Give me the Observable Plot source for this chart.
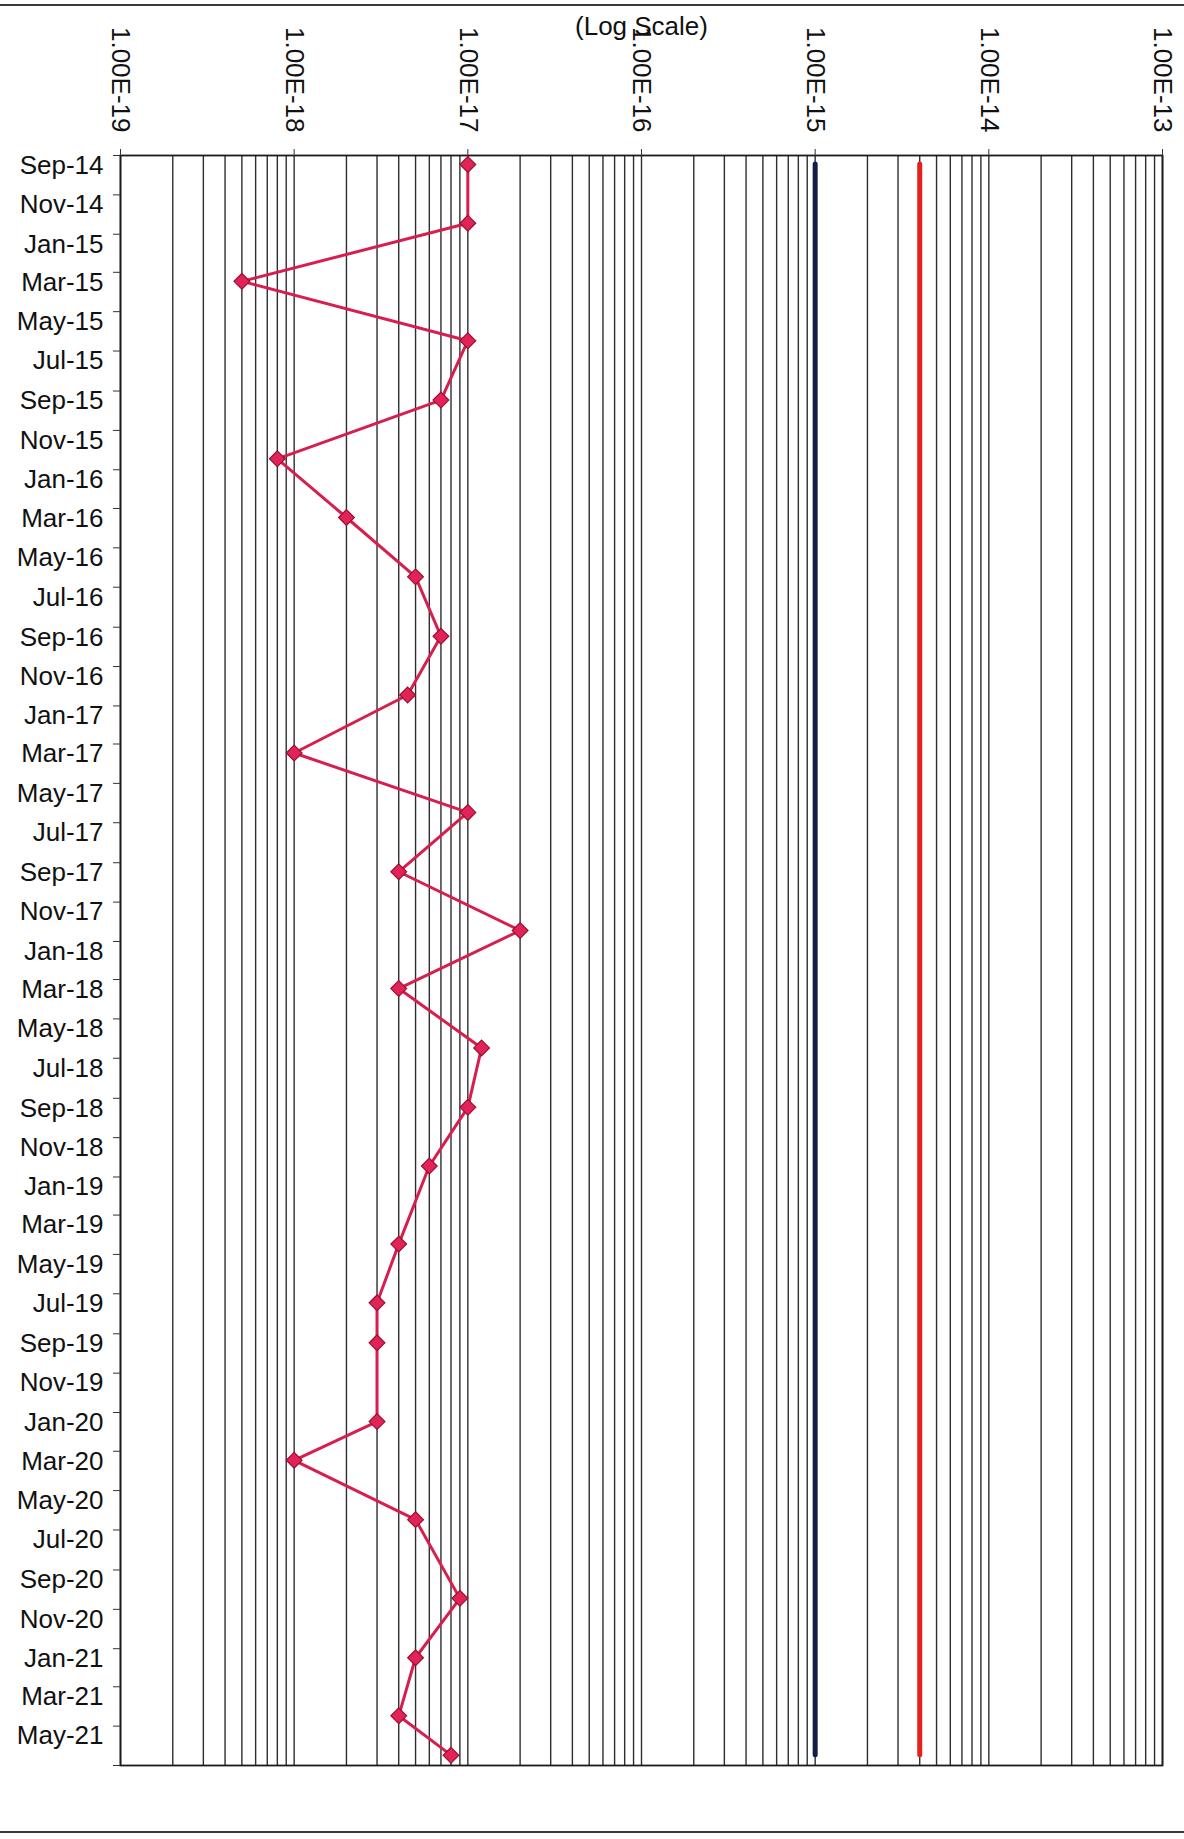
<!DOCTYPE html>
<html>
<head>
<meta charset="utf-8">
<script src="https://cdn.jsdelivr.net/npm/d3@7"></script>
<script src="https://cdn.jsdelivr.net/npm/@observablehq/plot@0.6"></script>
<style>
  html, body { margin: 0; padding: 0; background: #fff; }
  #wrap { position: relative; width: 1184px; height: 1839px; overflow: hidden; }
  .pageline { position: absolute; left: 0; width: 1184px; height: 2px; background: #3a3a3a; }
  #chart svg { display: block; }
</style>
</head>
<body>
<div id="wrap">
  <div id="chart"></div>
  <div class="pageline" style="top:4px"></div>
  <div class="pageline" style="top:1831px"></div>
</div>
<script>
// ---- data ----
const sampleDates = ["2014-09-15","2014-12-15","2015-03-15","2015-06-15","2015-09-15","2015-12-15","2016-03-15","2016-06-15","2016-09-15","2016-12-15","2017-03-15","2017-06-15","2017-09-15","2017-12-15","2018-03-15","2018-06-15","2018-09-15","2018-12-15","2019-04-15","2019-07-15","2019-09-15","2020-01-15","2020-03-15","2020-06-15","2020-10-15","2021-01-15","2021-04-15","2021-06-15"];
const sampleValues = [1e-17,1e-17,5e-19,1e-17,7e-18,8e-19,2e-18,5e-18,7e-18,4.5e-18,1e-18,1e-17,4e-18,2e-17,4e-18,1.2e-17,1e-17,6e-18,4e-18,3e-18,3e-18,3e-18,1e-18,5e-18,9e-18,5e-18,4e-18,8e-18];

const limitValues = [1e-15, 4e-15];
const limitColors = ["#101d45", "#e3201b"];

const xTickValues = [1e-19, 1e-18, 1e-17, 1e-16, 1e-15, 1e-14, 1e-13];
const xTickLabels = ["1.00E-19","1.00E-18","1.00E-17","1.00E-16","1.00E-15","1.00E-14","1.00E-13"];

const yTickLabels = ["Sep-14","Nov-14","Jan-15","Mar-15","May-15","Jul-15","Sep-15","Nov-15","Jan-16","Mar-16","May-16","Jul-16","Sep-16","Nov-16","Jan-17","Mar-17","May-17","Jul-17","Sep-17","Nov-17","Jan-18","Mar-18","May-18","Jul-18","Sep-18","Nov-18","Jan-19","Mar-19","May-19","Jul-19","Sep-19","Nov-19","Jan-20","Mar-20","May-20","Jul-20","Sep-20","Nov-20","Jan-21","Mar-21","May-21"];
const yDomainLabels = ["Sep-14", "Jul-21"];
const axisTitle = "(Log Scale)";

// ---- derived tables ----
const parseISO = d3.utcParse("%Y-%m-%d");
const parseMon = d3.utcParse("%b-%y");
const data = sampleDates.map((d, i) => ({date: parseISO(d), value: sampleValues[i]}));
const yDomain = yDomainLabels.map(parseMon);
const yTickDates = [...yTickLabels.map(parseMon), yDomain[1]];
const yLabelRows = yTickLabels.map(l => ({label: l, date: parseMon(l)}));
const xLabelRows = xTickValues.map((v, i) => ({value: v, label: xTickLabels[i]}));
const gridValues = d3.scaleLog().domain([xTickValues[0], xTickValues[xTickValues.length - 1]]).ticks();
const limits = limitValues.map((v, i) => ({value: v, color: limitColors[i]}));

const squareDiamond = {
  draw(context, size) {
    const r = Math.sqrt(size / Math.PI) * 1.05;
    context.moveTo(0, -r);
    context.lineTo(r, 0);
    context.lineTo(0, r);
    context.lineTo(-r, 0);
    context.closePath();
  }
};

const chart = Plot.plot({
  width: 1184,
  height: 1839,
  marginTop: 155,
  marginBottom: 74,
  marginLeft: 120,
  marginRight: 22,
  style: {fontFamily: "'Liberation Sans', Arial, sans-serif", fontSize: "26px", color: "#111", background: "#fff"},
  x: {type: "log", domain: [xTickValues[0], xTickValues[xTickValues.length - 1]]},
  y: {type: "utc", domain: yDomain, reverse: true},
  marks: [
    Plot.ruleX(gridValues, {stroke: "#2e2e2e", strokeWidth: 1.4}),
    Plot.ruleX(limits, {
      x: "value",
      y1: () => data[0].date,
      y2: () => data[data.length - 1].date,
      stroke: "color",
      strokeWidth: 5,
      strokeLinecap: "round"
    }),
    Plot.frame({stroke: "#1a1a1a", strokeWidth: 1.8}),
    Plot.axisX({anchor: "top", ticks: xTickValues, tickSize: 7, tickFormat: () => "", stroke: "#333", label: null}),
    Plot.text(xLabelRows, {
      x: "value",
      text: "label",
      frameAnchor: "top",
      dy: -23,
      rotate: 90,
      textAnchor: "end",
      lineAnchor: "middle",
      fontSize: 26,
      fill: "#111"
    }),
    Plot.text([axisTitle], {
      x: () => xTickValues[3],
      text: d => d,
      frameAnchor: "top",
      dy: -139,
      fontSize: 26,
      fill: "#111"
    }),
    Plot.axisY({ticks: yTickDates, tickSize: 7, tickFormat: () => "", stroke: "#333", label: null}),
    Plot.text(yLabelRows, {
      y: "date",
      text: "label",
      frameAnchor: "left",
      dx: -17,
      dy: 10,
      textAnchor: "end",
      fontSize: 26,
      fill: "#111"
    }),
    Plot.line(data, {x: "value", y: "date", stroke: "#d61f4e", strokeWidth: 3}),
    Plot.dot(data, {x: "value", y: "date", symbol: squareDiamond, r: 7.5, fill: "#e2235a", stroke: "#9c0f2c", strokeWidth: 1.2})
  ]
});
document.getElementById("chart").appendChild(chart);
</script>
</body>
</html>
